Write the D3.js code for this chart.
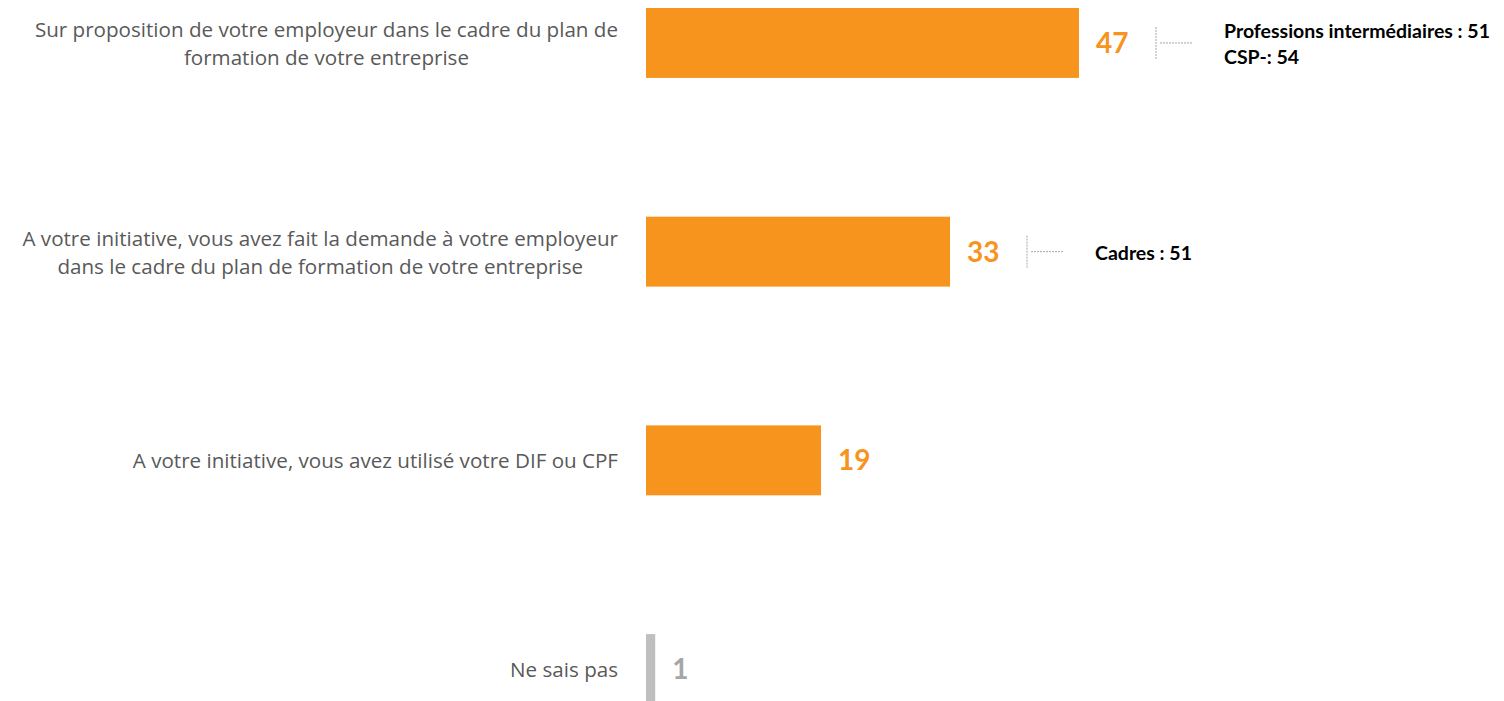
<!DOCTYPE html>
<html>
<head>
<meta charset="utf-8">
<script src="https://cdn.jsdelivr.net/npm/d3@7"></script>
<style>
  html, body { margin: 0; padding: 0; background: #fff; overflow: hidden; }
</style>
</head>
<body>
<div id="chart"></div>
<script>
const width = 1504;
const height = 701;

// chart data
const categories = [
    "Sur proposition de votre employeur dans le cadre du plan de\nformation de votre entreprise",
    "A votre initiative, vous avez fait la demande à votre employeur\ndans le cadre du plan de formation de votre entreprise",
    "A votre initiative, vous avez utilisé votre DIF ou CPF",
    "Ne sais pas"
];
const values = [47, 33, 19, 1];
const annotations = [
    ["Professions intermédiaires : 51", "CSP-: 54"],
    ["Cadres : 51"],
    [],
    []
];

const orange = "#F7941D";
const greyBar = "#BFBFBF";
const greyText = "#A6A6A6";

const svg = d3.select("#chart").append("svg")
    .attr("width", width)
    .attr("height", height);

const x = d3.scaleLinear()
    .domain([0, 47])
    .range([646, 1079]);

const y = d3.scaleBand()
    .domain(categories)
    .range([8, 704])
    .paddingInner(0.665)
    .paddingOuter(0);

const isNsp = (d, i) => i === categories.length - 1;

// bars
svg.append("g").selectAll("rect")
    .data(values)
    .join("rect")
    .attr("x", x(0))
    .attr("y", (d, i) => y(categories[i]))
    .attr("width", d => x(d) - x(0))
    .attr("height", y.bandwidth())
    .attr("fill", (d, i) => isNsp(d, i) ? greyBar : orange);

// category labels: block right aligned, lines centred inside the block
const labelRight = 618;
const labelG = svg.append("g")
    .style("font-family", "'Open Sans', sans-serif")
    .style("font-size", "20.6px")
    .attr("fill", "#595959");

categories.forEach((c, i) => {
    const lines = c.split("\n");
    const cy = y(c) + y.bandwidth() / 2;
    const t = labelG.append("text").attr("text-anchor", "middle");
    lines.forEach((l, j) => {
        t.append("tspan")
            .attr("y", cy + 8 + (j - (lines.length - 1) / 2) * 28)
            .text(l);
    });
    // measure widest line, then centre block against right edge
    let maxW = 0;
    t.selectAll("tspan").each(function() {
        maxW = Math.max(maxW, this.getComputedTextLength());
    });
    t.selectAll("tspan").attr("x", labelRight - maxW / 2);
});

// value labels
svg.append("g").selectAll("text")
    .data(values)
    .join("text")
    .attr("x", d => x(d) + 17)
    .attr("y", (d, i) => y(categories[i]) + y.bandwidth() / 2 + 10)
    .style("font-family", "Lato, 'Open Sans', sans-serif")
    .style("font-weight", "bold")
    .style("font-size", "28px")
    .attr("fill", (d, i) => isNsp(d, i) ? greyText : orange)
    .text(d => d);

// sub-group annotations with dotted connectors
annotations.forEach((a, i) => {
    if (!a.length) return;
    const cy = y(categories[i]) + y.bandwidth() / 2;
    const cx = x(values[i]) + 77;
    const g = svg.append("g");
    g.append("line")
        .attr("x1", cx).attr("x2", cx)
        .attr("y1", cy - 16).attr("y2", cy + 17)
        .attr("stroke", greyText)
        .attr("stroke-width", 1)
        .attr("stroke-dasharray", "2,1");
    g.append("line")
        .attr("x1", cx + 4).attr("x2", cx + 37)
        .attr("y1", cy).attr("y2", cy)
        .attr("stroke", greyText)
        .attr("stroke-width", 1)
        .attr("stroke-dasharray", "2,1");
    const t = g.append("text")
        .style("font-family", "Lato, 'Open Sans', sans-serif")
        .style("font-weight", "bold")
        .style("font-size", "19.5px")
        .attr("fill", "#000");
    a.forEach((l, j) => {
        t.append("tspan")
            .attr("x", cx + 68)
            .attr("y", cy + 8 + (j - (a.length - 1) / 2) * 26)
            .text(l);
    });
});
</script>
</body>
</html>
